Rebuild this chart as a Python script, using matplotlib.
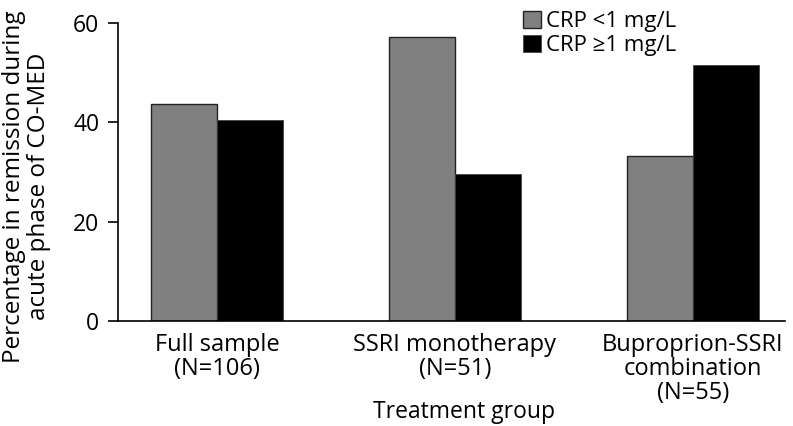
import matplotlib.pyplot as plt
import numpy as np

plt.rcParams['font.family'] = ['Open Sans', 'DejaVu Sans']

#### data
groups = ['Full sample\n(N=106)', 'SSRI monotherapy\n(N=51)', 'Buproprion-SSRI\ncombination\n(N=55)']
low_crp = [43.6, 57.2, 33.2]
high_crp = [40.4, 29.6, 51.4]
series_labels = ['CRP <1 mg/L', 'CRP \u22651 mg/L']

#### figure
fig = plt.figure(figsize=(7.93, 4.26), dpi=100)
ax = fig.add_axes([0.1488, 0.2465, 0.8411, 0.7002])

x = np.arange(len(groups))
w = 0.277
ax.bar(x - w / 2, low_crp, w, color='#808080', edgecolor='#222222', linewidth=1.0, label=series_labels[0])
ax.bar(x + w / 2, high_crp, w, color='black', edgecolor='#444444', linewidth=0.6, label=series_labels[1])

ax.set_xlim(-0.416, 2.387)
ax.set_ylim(0, 60)
ax.set_yticks([0, 20, 40, 60])
ax.set_xticks(x)
ax.set_xticklabels(groups, fontsize=17, linespacing=1.0)
ax.tick_params(axis='x', length=0, pad=9)
ax.tick_params(axis='y', length=7.5, width=1.2, labelsize=16.5, pad=6, direction='out')

for s in ['top', 'right']:
    ax.spines[s].set_visible(False)
for s in ['left', 'bottom']:
    ax.spines[s].set_linewidth(1.2)

ax.set_ylabel('Percentage in remission during\nacute phase of CO-MED', fontsize=17.5, linespacing=1.08)
ax.yaxis.set_label_coords(-0.1, 0.45)
ax.set_xlabel('Treatment group', fontsize=16.5)
ax.xaxis.set_label_coords(0.519, -0.266)

leg = ax.legend(loc='upper left', bbox_to_anchor=(0.594, 1.07), frameon=False, fontsize=16,
                handlelength=0.8, handleheight=0.8, handletextpad=0.25, labelspacing=0.15, borderaxespad=0)

plt.savefig('out.png', dpi=100)
